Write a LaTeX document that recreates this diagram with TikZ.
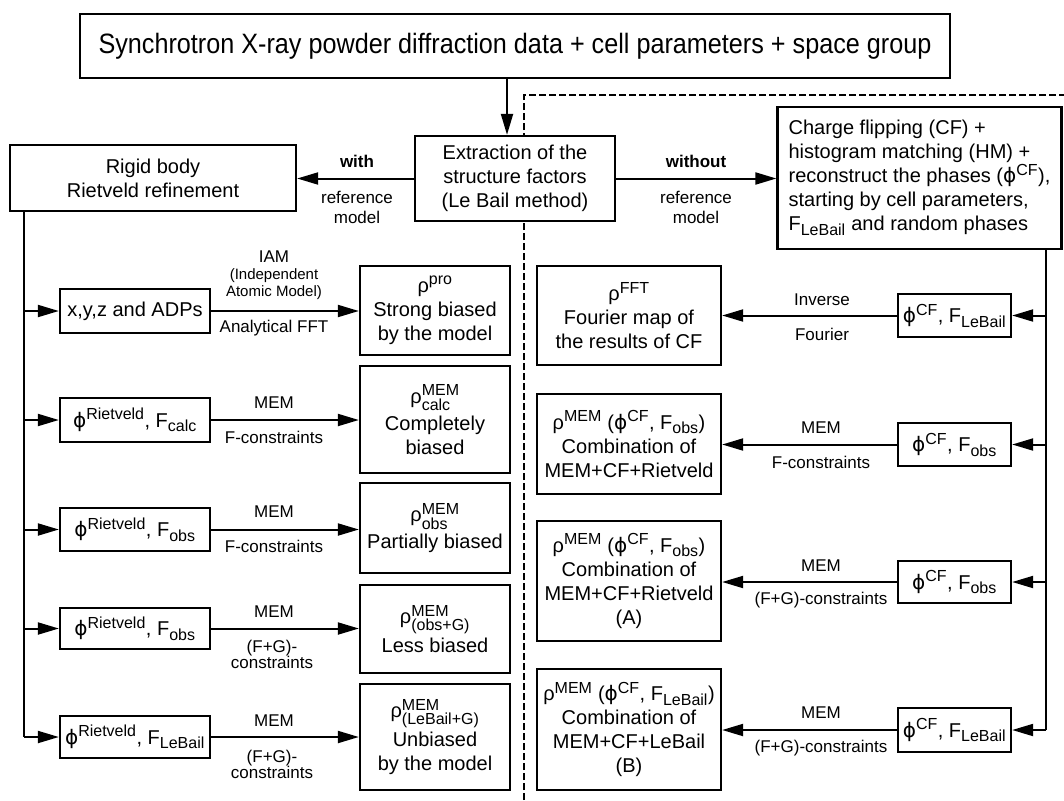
\documentclass[tikz,border=0pt]{standalone}
\usepackage{amsmath}
\usepackage{fontspec}
\setmainfont{Liberation Sans}
\newfontfamily\djv{DejaVu Sans}
\newfontfamily\narrowfont[FakeStretch=0.9]{Liberation Sans}
\DeclareMathSizes{20}{20}{16}{12}
\usetikzlibrary{arrows.meta}
\newcommand\PH{{\djv ϕ}}
\newcommand\sps[1]{$^{\text{#1}}$}
\newcommand\sbs[1]{$_{\text{#1}}$}
\newcommand\spsb[2]{$^{\text{#1}}_{\text{#2}}$}
\newcommand\bx[6]{\node[box, minimum width={#4-#2}, minimum height={#5-#3}] (#1) at ({(#2+#4)/2},{(#3+#5)/2}) {#6};}
\begin{document}
\begin{tikzpicture}[x=1pt,y=-1pt,
  box/.style={draw, line width=2.3pt, fill=white, align=center, inner sep=0pt, font=\fontsize{20}{24}\selectfont},
  lab/.style={align=center, inner sep=0pt, font=\fontsize{17}{20}\selectfont},
  smalllab/.style={align=center, inner sep=0pt, font=\fontsize{15}{17}\selectfont},
  conn/.style={line width=2pt},
  arr/.style={line width=2pt, -{Triangle[length=21pt,width=12pt]}},
  dashline/.style={line width=1.6pt, dash pattern=on 7pt off 3pt}]
\fill[white] (0,0) rectangle (1064,800);
\useasboundingbox (0,0) rectangle (1064,800);
% dashed separator
\coordinate (dA) at (524,800);
\coordinate (dB) at (524,95);
\coordinate (dC) at (1064,95);
\draw[dashline] (dA) -- (dB) -- (dC);
% top and centre
\bx{top}{80}{14}{950}{78}{\narrowfont\fontsize{28}{32}\selectfont Synchrotron X-ray powder diffraction data + cell parameters + space group}
\bx{ext}{415}{136}{615}{221}{Extraction of the\\structure factors\\(Le Bail method)}
\bx{rigid}{10}{145}{296}{211}{Rigid body\\Rietveld refinement}
\node[box, align=left, minimum width=284, minimum height=142] (cf) at (919.5,178)
  {Charge flipping (CF) +\\histogram matching (HM) +\\reconstruct the phases (\PH\sps{CF}),\\starting by cell parameters,\\F\sbs{LeBail} and random phases};
% left column
\bx{xyz}{60}{289}{210}{333}{x,y,z and ADPs}
\bx{pro}{360}{266}{510}{355}{ρ\sps{pro}\\Strong biased\\by the model}
\bx{fcalc}{60}{398}{210}{442}{\PH\sps{Rietveld}, F\sbs{calc}}
\bx{calc}{360}{366}{510}{473}{ρ\spsb{MEM}{calc}\\[3pt]Completely\\biased}
\bx{fobsa}{60}{508}{210}{551}{\PH\sps{Rietveld}, F\sbs{obs}}
\bx{obs}{360}{483}{510}{573}{ρ\spsb{MEM}{obs}\\[3pt]Partially biased}
\bx{fobsb}{60}{608}{210}{649}{\PH\sps{Rietveld}, F\sbs{obs}}
\bx{obsg}{360}{585}{510}{673}{ρ\spsb{MEM}{(obs+G)}\\[3pt]Less biased}
\bx{fleb}{60}{716}{210}{758}{\PH\sps{Rietveld}, F\sbs{LeBail}}
\bx{lebg}{360}{684}{510}{790}{ρ\spsb{MEM}{(LeBail+G)}\\[3pt]Unbiased\\by the model}
% right column
\bx{fft}{537}{266}{721}{365}{ρ\sps{FFT}\\Fourier map of\\the results of CF}
\bx{cflebA}{898}{294}{1011}{337}{\PH\sps{CF}, F\sbs{LeBail}}
\bx{memr}{537}{394}{721}{494}{ρ\sps{MEM} (\PH\sps{CF}, F\sbs{obs})\\Combination of\\MEM+CF+Rietveld}
\bx{cfobsA}{898}{423}{1011}{466}{\PH\sps{CF}, F\sbs{obs}}
\bx{boxA}{537}{521}{721}{641}{ρ\sps{MEM} (\PH\sps{CF}, F\sbs{obs})\\Combination of\\MEM+CF+Rietveld\\(A)}
\bx{cfobsB}{898}{561}{1011}{603}{\PH\sps{CF}, F\sbs{obs}}
\bx{boxB}{537}{669}{721}{790}{ρ\sps{MEM} (\PH\sps{CF}, F\sbs{LeBail})\\Combination of\\MEM+CF+LeBail\\(B)}
\bx{cflebB}{898}{708}{1011}{752}{\PH\sps{CF}, F\sbs{LeBail}}
% top connectors
\draw[arr] ([xshift=-8pt]top.south) -- ([xshift=-8pt]ext.north);
\draw[arr] (ext.west) -- (ext.west -| rigid.east);
\draw[arr] (ext.east) -- (ext.east -| cf.west);
\node[lab, font=\fontsize{17}{20}\selectfont\bfseries] (with) at (357,161) {with};
\node[lab] (refA) at (357,207) {reference\\model};
\node[lab, font=\fontsize{17}{20}\selectfont\bfseries] (without) at (696,161) {without};
\node[lab] (refB) at (696,207) {reference\\model};
% left trunk
\coordinate (lt) at (24,0);
\draw[conn] (rigid.south -| lt) -- (lt |- fleb.west);
\foreach \n in {xyz,fcalc,fobsa,fobsb,fleb}{\draw[arr] (lt |- \n.west) -- (\n.west);}
\draw[arr] (xyz.east) -- (xyz.east -| pro.west);
\draw[arr] (fcalc.east) -- (fcalc.east -| calc.west);
\draw[arr] (fobsa.east) -- (fobsa.east -| obs.west);
\draw[arr] (fobsb.east) -- (fobsb.east -| obsg.west);
\draw[arr] (fleb.east) -- (fleb.east -| lebg.west);
\node[lab] (iam) at (274,257) {IAM};
\node[smalllab] (iamt) at (274,284.5) {(Independent\\Atomic Model)};
\node[lab] (afft) at (274,328) {Analytical FFT};
\node[lab] (memA) at (274,403) {MEM};
\node[lab] (fcA) at (274,437) {F-constraints};
\node[lab] (memB) at (274,512) {MEM};
\node[lab] (fcB) at (274,546) {F-constraints};
\node[lab] (memC) at (274,612) {MEM};
\node[lab, font=\fontsize{17}{16}\selectfont] (fgC) at (272,654) {(F+G)-\\constraints};
\node[lab] (memD) at (274,721) {MEM};
\node[lab, font=\fontsize{17}{16}\selectfont] (fgD) at (272,764) {(F+G)-\\constraints};
% right trunk
\coordinate (rt) at (1046,0);
\draw[conn] (cf.south -| rt) -- (rt |- cflebB.east);
\foreach \n in {cflebA,cfobsA,cfobsB,cflebB}{\draw[arr] (rt |- \n.east) -- (\n.east);}
\draw[arr] (cflebA.west) -- (cflebA.west -| fft.east);
\draw[arr] (cfobsA.west) -- (cfobsA.west -| memr.east);
\draw[arr] (cfobsB.west) -- (cfobsB.west -| boxA.east);
\draw[arr] (cflebB.west) -- (cflebB.west -| boxB.east);
\node[lab] (inv) at (822,300) {Inverse};
\node[lab] (fou) at (822,334) {Fourier};
\node[lab] (memE) at (821,428) {MEM};
\node[lab] (fcE) at (821,462) {F-constraints};
\node[lab] (memF) at (821,566) {MEM};
\node[lab] (fgF) at (821,600) {(F+G)-constraints};
\node[lab] (memG) at (821,713) {MEM};
\node[lab] (fgG) at (821,748) {(F+G)-constraints};
\end{tikzpicture}
\end{document}
